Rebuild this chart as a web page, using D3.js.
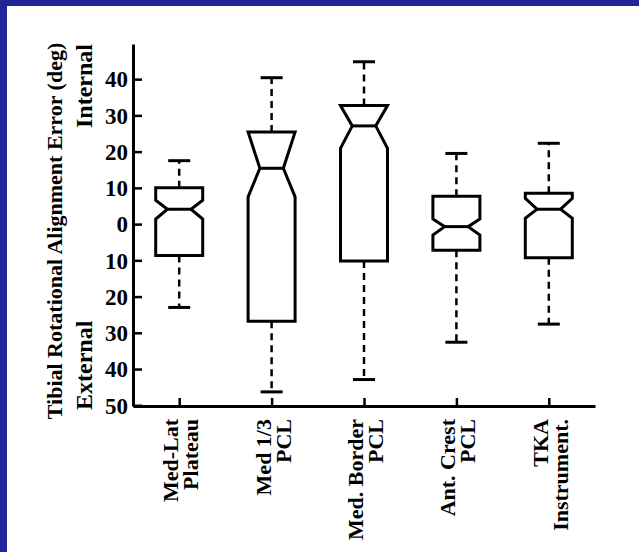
<!DOCTYPE html>
<html>
<head>
<meta charset="utf-8">
<script src="https://cdn.jsdelivr.net/npm/d3@7"></script>
<style>
  html, body { margin: 0; padding: 0; background: #ffffff; }
  svg { display: block; }
  text { font-family: "Liberation Serif", "DejaVu Serif", serif; font-weight: bold; fill: #000; }
</style>
</head>
<body>
<div id="chart"></div>
<script>
// ---- data ----
const categories = ["Med-Lat Plateau", "Med 1/3 PCL", "Med. Border PCL", "Ant. Crest PCL", "TKA Instrument."];
const categoryLines = [["Med-Lat", "Plateau"], ["Med 1/3", "PCL"], ["Med. Border", "PCL"], ["Ant. Crest", "PCL"], ["TKA", "Instrument."]];
const upperWhisker = [17.5, 40.4, 44.8, 19.5, 22.3];
const q3 = [10.0, 25.4, 32.7, 7.7, 8.5];
const notchHigh = [6.6, 25.4, 32.7, 1.4, 7.1];
const median = [4.1, 15.4, 27.1, -0.7, 4.1];
const notchLow = [1.4, 7.5, 20.9, -3.0, 1.6];
const q1 = [-8.7, -26.8, -10.2, -7.2, -9.3];
const lowerWhisker = [-23.0, -46.3, -42.9, -32.6, -27.6];
const yTicks = [-50, -40, -30, -20, -10, 0, 10, 20, 30, 40];
const yTitle = "Tibial Rotational Alignment Error (deg)";
const upperLabel = "Internal";
const lowerLabel = "External";

// ---- layout ----
const W = 639, H = 552;
const svg = d3.select("#chart").append("svg").attr("width", W).attr("height", H);

// frame: blue band at top and left
svg.append("rect").attr("x", 0).attr("y", 0).attr("width", W).attr("height", H).attr("fill", "#24249a");
svg.append("rect").attr("x", 7).attr("y", 6).attr("width", W - 7).attr("height", H - 6).attr("fill", "#ffffff");

const x = d3.scalePoint().domain(categories).range([133, 595]).padding(0.5);
const y = d3.scaleLinear().domain([-50.2, 49.7]).range([406, 44]);

const boxW = 47, capW = 22;

// y axis
const yAxis = svg.append("g").attr("transform", "translate(133,0)")
  .call(d3.axisLeft(y).tickValues(yTicks).tickSizeInner(-9).tickSizeOuter(0).tickPadding(5)
    .tickFormat(d => Math.abs(d)));
yAxis.select(".domain").attr("stroke", "#000").attr("stroke-width", 3);
yAxis.selectAll(".tick line").attr("stroke", "#000").attr("stroke-width", 2.5);
yAxis.selectAll(".tick text").attr("font-size", 23).attr("x", -5).attr("dy", "0.34em")
  .style("font-family", "'Liberation Serif', serif").style("font-weight", "bold");

// x axis
const xAxis = svg.append("g").attr("transform", "translate(0,406)")
  .call(d3.axisBottom(x).tickSizeInner(-8).tickSizeOuter(0).tickFormat(""));
xAxis.select(".domain").attr("stroke", "#000").attr("stroke-width", 3);
xAxis.selectAll(".tick line").attr("stroke", "#000").attr("stroke-width", 2.5);

// category labels (rotated, two lines)
categories.forEach((c, i) => {
  const cx = x(c);
  const lines = categoryLines[i];
  const offs = [-1, 19];
  lines.forEach((ln, j) => {
    svg.append("text")
      .attr("transform", `translate(${cx + offs[j]},419) rotate(-90)`)
      .attr("text-anchor", "end")
      .attr("font-size", 22)
      .text(ln);
  });
});

// y title and direction labels
svg.append("text").attr("transform", "translate(62,231) rotate(-90)")
  .attr("text-anchor", "middle").attr("font-size", 22).text(yTitle);
svg.append("text").attr("transform", "translate(92,44) rotate(-90)")
  .attr("text-anchor", "end").attr("font-size", 24).text(upperLabel);
svg.append("text").attr("transform", "translate(92,410) rotate(-90)")
  .attr("text-anchor", "start").attr("font-size", 24).text(lowerLabel);

// boxes
const g = svg.append("g");
categories.forEach((c, i) => {
  const cx = x(c);
  const hw = boxW / 2, qw = boxW / 4;
  // whiskers (dashed)
  g.append("line").attr("x1", cx).attr("x2", cx).attr("y1", y(q3[i])).attr("y2", y(upperWhisker[i]))
    .attr("stroke", "#000").attr("stroke-width", 2.5).attr("stroke-dasharray", "7,5");
  g.append("line").attr("x1", cx).attr("x2", cx).attr("y1", y(q1[i])).attr("y2", y(lowerWhisker[i]))
    .attr("stroke", "#000").attr("stroke-width", 2.5).attr("stroke-dasharray", "7,5");
  // caps
  [upperWhisker[i], lowerWhisker[i]].forEach(v => {
    g.append("line").attr("x1", cx - capW / 2).attr("x2", cx + capW / 2).attr("y1", y(v)).attr("y2", y(v))
      .attr("stroke", "#000").attr("stroke-width", 3);
  });
  // notched box
  const pts = [
    [cx - hw, y(q3[i])], [cx + hw, y(q3[i])], [cx + hw, y(notchHigh[i])], [cx + qw, y(median[i])],
    [cx + hw, y(notchLow[i])], [cx + hw, y(q1[i])], [cx - hw, y(q1[i])], [cx - hw, y(notchLow[i])],
    [cx - qw, y(median[i])], [cx - hw, y(notchHigh[i])]
  ];
  g.append("path").attr("d", d3.line()(pts) + "Z")
    .attr("fill", "#fff").attr("stroke", "#000").attr("stroke-width", 3).attr("stroke-linejoin", "miter");
  // median
  g.append("line").attr("x1", cx - qw).attr("x2", cx + qw).attr("y1", y(median[i])).attr("y2", y(median[i]))
    .attr("stroke", "#000").attr("stroke-width", 3);
});
</script>
</body>
</html>
